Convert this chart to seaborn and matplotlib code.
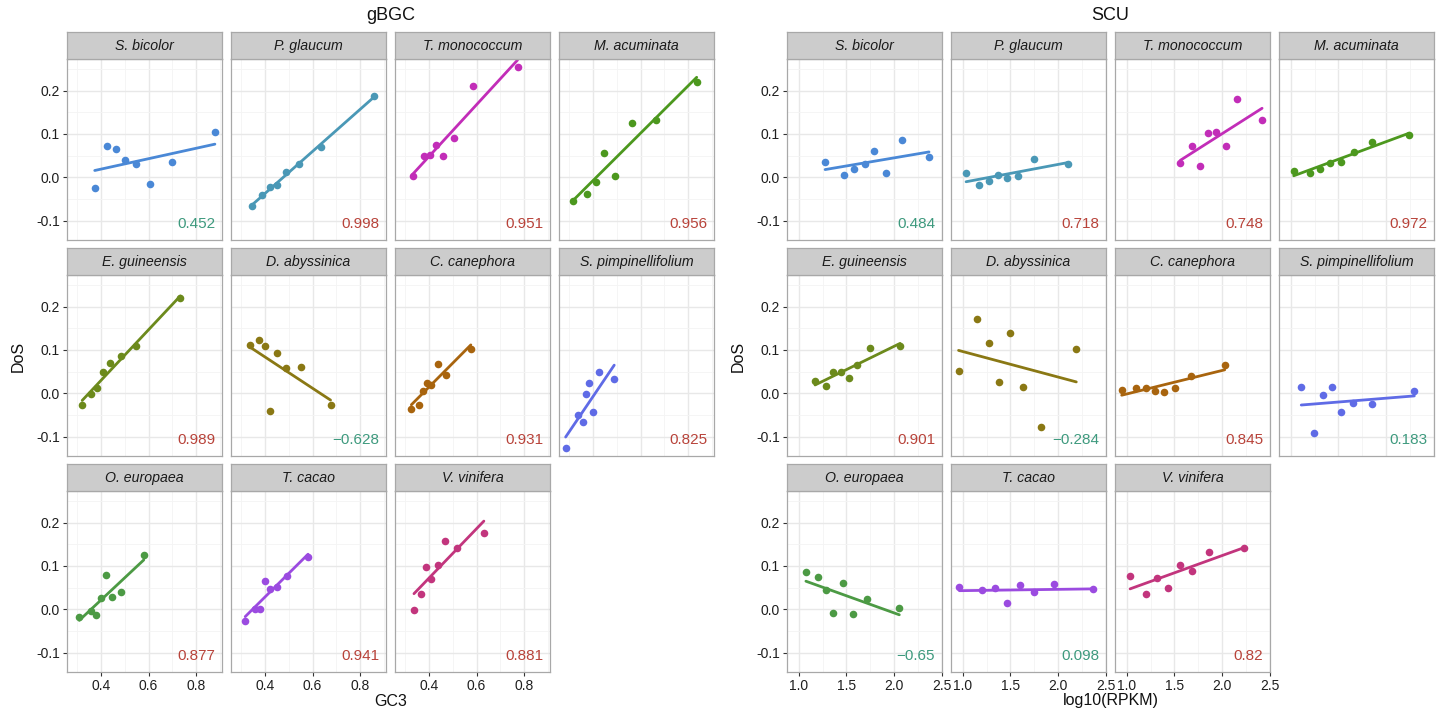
import numpy as np
import pandas as pd
import matplotlib
matplotlib.use("Agg")
import matplotlib.pyplot as plt
import seaborn as sns
from matplotlib.ticker import FixedLocator

# ---------------- data ----------------
species = ["S. bicolor", "P. glaucum", "T. monococcum", "M. acuminata",
           "E. guineensis", "D. abyssinica", "C. canephora", "S. pimpinellifolium",
           "O. europaea", "T. cacao", "V. vinifera"]
species_colors = ["#4A88D6", "#4A98B6", "#C22DB8", "#4C981E", "#6C8A1C", "#8A7814",
                  "#A8640E", "#5F6BE6", "#4C9A44", "#9B4BE0", "#C2357D"]

gbgc_x = [
    [0.373, 0.423, 0.462, 0.501, 0.548, 0.608, 0.697, 0.880],
    [0.345, 0.388, 0.420, 0.450, 0.489, 0.542, 0.635, 0.859],
    [0.331, 0.377, 0.404, 0.427, 0.459, 0.507, 0.583, 0.773],
    [0.316, 0.373, 0.411, 0.446, 0.492, 0.562, 0.667, 0.837],
    [0.320, 0.359, 0.384, 0.409, 0.439, 0.482, 0.548, 0.734],
    [0.336, 0.375, 0.398, 0.421, 0.450, 0.487, 0.551, 0.676],
    [0.325, 0.357, 0.375, 0.391, 0.409, 0.436, 0.473, 0.576],
    [0.284, 0.338, 0.356, 0.368, 0.384, 0.400, 0.423, 0.489],
    [0.308, 0.356, 0.379, 0.400, 0.421, 0.446, 0.485, 0.580],
    [0.316, 0.357, 0.379, 0.400, 0.421, 0.450, 0.492, 0.581],
    [0.336, 0.366, 0.388, 0.407, 0.436, 0.466, 0.517, 0.631],
]
gbgc_y = [
    [-0.025, 0.071, 0.065, 0.040, 0.030, -0.016, 0.036, 0.104],
    [-0.067, -0.042, -0.023, -0.018, 0.013, 0.031, 0.070, 0.187],
    [0.002, 0.048, 0.051, 0.074, 0.048, 0.091, 0.211, 0.255],
    [-0.055, -0.038, -0.010, 0.055, 0.002, 0.125, 0.133, 0.221],
    [-0.028, -0.002, 0.012, 0.049, 0.070, 0.087, 0.109, 0.219],
    [0.111, 0.124, 0.110, -0.040, 0.093, 0.059, 0.060, -0.027],
    [-0.037, -0.027, 0.005, 0.023, 0.019, 0.068, 0.041, 0.103],
    [-0.127, -0.051, -0.067, -0.002, 0.023, -0.044, 0.049, 0.033],
    [-0.019, -0.003, -0.013, 0.025, 0.079, 0.029, 0.039, 0.125],
    [-0.027, 0.001, 0.001, 0.065, 0.046, 0.051, 0.077, 0.121],
    [-0.002, 0.035, 0.097, 0.069, 0.101, 0.158, 0.141, 0.176],
]
gbgc_r_labels = ["0.452", "0.998", "0.951", "0.956", "0.989", "\u22120.628",
                 "0.931", "0.825", "0.877", "0.941", "0.881"]
gbgc_significant = [False, True, True, True, True, False, True, True, True, True, True]

scu_x = [
    [1.276, 1.469, 1.579, 1.689, 1.789, 1.912, 2.079, 2.364],
    [1.035, 1.175, 1.276, 1.364, 1.465, 1.579, 1.741, 2.105],
    [1.561, 1.684, 1.772, 1.846, 1.930, 2.035, 2.154, 2.417],
    [1.031, 1.197, 1.307, 1.408, 1.522, 1.658, 1.846, 2.241],
    [1.171, 1.285, 1.360, 1.439, 1.526, 1.614, 1.746, 2.061],
    [0.956, 1.149, 1.272, 1.382, 1.500, 1.636, 1.816, 2.189],
    [0.947, 1.101, 1.197, 1.294, 1.395, 1.509, 1.675, 2.026],
    [1.110, 1.241, 1.333, 1.430, 1.526, 1.649, 1.851, 2.294],
    [1.075, 1.197, 1.285, 1.360, 1.461, 1.566, 1.711, 2.053],
    [0.965, 1.206, 1.342, 1.465, 1.596, 1.750, 1.952, 2.364],
    [1.035, 1.202, 1.320, 1.434, 1.553, 1.684, 1.860, 2.228],
]
scu_y = [
    [0.034, 0.006, 0.018, 0.030, 0.061, 0.009, 0.085, 0.046],
    [0.009, -0.019, -0.008, 0.006, -0.002, 0.002, 0.041, 0.031],
    [0.032, 0.072, 0.027, 0.101, 0.105, 0.071, 0.180, 0.133],
    [0.014, 0.010, 0.020, 0.032, 0.035, 0.059, 0.081, 0.098],
    [0.029, 0.017, 0.049, 0.050, 0.034, 0.065, 0.105, 0.109],
    [0.051, 0.171, 0.115, 0.027, 0.139, 0.014, -0.078, 0.101],
    [0.007, 0.013, 0.012, 0.004, 0.002, 0.013, 0.040, 0.066],
    [0.014, -0.092, -0.005, 0.014, -0.044, -0.022, -0.026, 0.006],
    [0.086, 0.075, 0.044, -0.009, 0.061, -0.012, 0.023, 0.003],
    [0.051, 0.045, 0.048, 0.014, 0.055, 0.040, 0.058, 0.046],
    [0.077, 0.036, 0.073, 0.048, 0.101, 0.089, 0.133, 0.141],
]
scu_r_labels = ["0.484", "0.718", "0.748", "0.972", "0.901", "\u22120.284",
                "0.845", "0.183", "\u22120.65", "0.098", "0.82"]
scu_significant = [False, True, True, True, True, False, True, False, False, False, True]

y_ticks = [-0.1, 0.0, 0.1, 0.2]
y_tick_labels = ["-0.1", "0.0", "0.1", "0.2"]
gbgc_x_ticks = [0.4, 0.6, 0.8]
scu_x_ticks = [1.0, 1.5, 2.0, 2.5]

# ---------------- style ----------------
sns.set_theme(style="white")
plt.rcParams["font.family"] = ["Liberation Sans", "DejaVu Sans"]
plt.rcParams["axes.unicode_minus"] = False

W, H = 1438, 712
fig = plt.figure(figsize=(W / 100, H / 100), dpi=100)
fig.patch.set_facecolor("white")


def add_ax(x0, y0, w, h):
    return fig.add_axes([x0 / W, 1 - (y0 + h) / H, w / W, h / H])


SIG_RED = "#B8433A"
NS_TEAL = "#3E9A7E"
BORDER = "#A8A8A8"
TXT = "#1F1F1F"

PANEL_W, PANEL_H, STRIP_H = 155, 181, 27
COL_STEP, ROW_STEP = 164, 216
TOP = 32

grids = [
    dict(left=67, xs=gbgc_x, ys=gbgc_y, labels=gbgc_r_labels, sig=gbgc_significant,
         xlim=(0.256, 0.910), majors=gbgc_x_ticks, minors=[0.3, 0.5, 0.7, 0.9],
         xtl=["0.4", "0.6", "0.8"], title="gBGC", xlabel="GC3"),
    dict(left=787, xs=scu_x, ys=scu_y, labels=scu_r_labels, sig=scu_significant,
         xlim=(0.877, 2.50), majors=scu_x_ticks, minors=[1.25, 1.75, 2.25],
         xtl=["1.0", "1.5", "2.0", "2.5"], title="SCU", xlabel="log10(RPKM)"),
]
ylim = (-0.145, 0.273)
y_minor = [-0.15, -0.05, 0.05, 0.15, 0.25]

for g in grids:
    for i, sp in enumerate(species):
        row, col = divmod(i, 4)
        px = g["left"] + col * COL_STEP
        sy = TOP + row * ROW_STEP
        ax = add_ax(px, sy + STRIP_H, PANEL_W, PANEL_H)
        df = pd.DataFrame({"x": g["xs"][i], "y": g["ys"][i]})
        sns.regplot(data=df, x="x", y="y", ax=ax, ci=None, truncate=True,
                    color=species_colors[i],
                    scatter_kws=dict(s=30, linewidths=0, alpha=1, zorder=3),
                    line_kws=dict(lw=2.0, zorder=2))
        ax.set_xlim(*g["xlim"])
        ax.set_ylim(*ylim)
        ax.set_facecolor("white")
        ax.xaxis.set_major_locator(FixedLocator(g["majors"]))
        ax.xaxis.set_minor_locator(FixedLocator(g["minors"]))
        ax.yaxis.set_major_locator(FixedLocator(y_ticks))
        ax.yaxis.set_minor_locator(FixedLocator(y_minor))
        ax.set_axisbelow(True)
        ax.grid(which="major", color="#E8E8E8", lw=1.0)
        ax.grid(which="minor", color="#F4F4F4", lw=0.6)
        for s in ax.spines.values():
            s.set_color(BORDER)
            s.set_linewidth(0.9)
        ax.set_xlabel("")
        ax.set_ylabel("")
        ax.tick_params(which="minor", length=0)
        if col == 0:
            ax.set_yticklabels(y_tick_labels)
            ax.tick_params(axis="y", which="major", length=3, width=0.8, color="#333333",
                           labelsize=10, labelcolor=TXT, pad=2, left=True)
        else:
            ax.tick_params(axis="y", which="major", length=0, labelleft=False)
        if row == 2:
            ax.set_xticklabels(g["xtl"])
            ax.tick_params(axis="x", which="major", length=3, width=0.8, color="#333333",
                           labelsize=10, labelcolor=TXT, pad=2, bottom=True)
        else:
            ax.tick_params(axis="x", which="major", length=0, labelbottom=False)
        ax.text(0.955, 0.05, g["labels"][i], transform=ax.transAxes, ha="right",
                va="bottom", fontsize=11,
                color=SIG_RED if g["sig"][i] else NS_TEAL)
        # strip
        sax = add_ax(px, sy, PANEL_W, STRIP_H)
        sax.set_facecolor("#CCCCCC")
        sax.set_xticks([])
        sax.set_yticks([])
        for s in sax.spines.values():
            s.set_color(BORDER)
            s.set_linewidth(0.9)
        sax.text(0.5, 0.47, sp, ha="center", va="center", style="italic",
                 fontsize=10.2, color="#1A1A1A", transform=sax.transAxes)

    cx = g["left"] + (3 * COL_STEP + PANEL_W) / 2
    fig.text(cx / W, 1 - 15 / H, g["title"], ha="center", va="center", fontsize=13, color="#111111")
    fig.text(cx / W, 1 - 701 / H, g["xlabel"], ha="center", va="center", fontsize=11.5, color="#111111")
    fig.text((g["left"] - 49) / W, 1 - 356 / H, "DoS", ha="center", va="center",
             rotation=90, fontsize=11.5, color="#111111")

fig.savefig("out.png", dpi=100, facecolor="white")
